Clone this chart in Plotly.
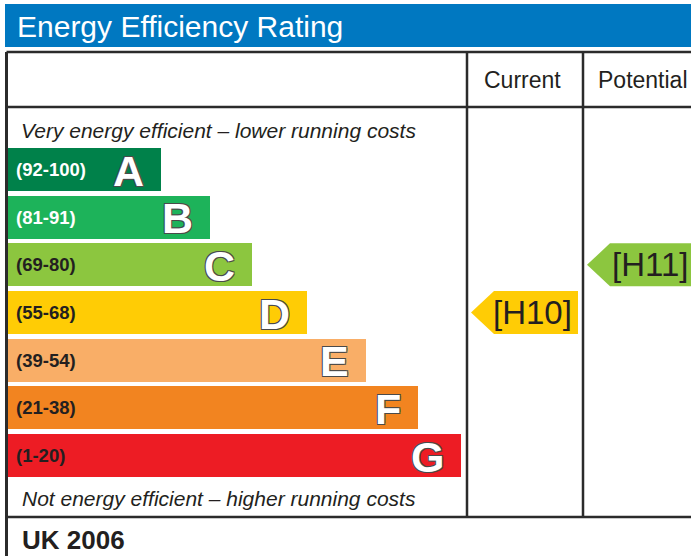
import plotly.graph_objects as go

# ---- data ----
bands = ["A", "B", "C", "D", "E", "F", "G"]
ranges = ["(92-100)", "(81-91)", "(69-80)", "(55-68)", "(39-54)", "(21-38)", "(1-20)"]
band_colors = ["#00814a", "#1db35a", "#8cc63f", "#ffcc05", "#f9ae67", "#f28420", "#ed1c24"]
range_text_colors = ["#ffffff", "#ffffff", "#231f20", "#231f20", "#231f20", "#231f20", "#231f20"]
bar_lengths = [154, 203, 245, 300, 359, 411, 454]
current_band = "D"
current_label = "[H10]"
potential_band = "C"
potential_label = "[H11]"
title_text = "Energy Efficiency Rating"
top_note = "Very energy efficient \u2013 lower running costs"
bottom_note = "Not energy efficient \u2013 higher running costs"
footer = "UK 2006"
col_headers = ["Current", "Potential"]

# ---- layout geometry (pixels) ----
W, H = 691, 556
x0 = 7
row0, pitch, bar_h = 169.5, 47.67, 43
centers = [row0 + i * pitch for i in range(len(bands))]
line_col = "#2b2b2b"
col1, col2 = 467, 583
top_y, head_y, bot_y = 52, 107, 517
FONT = "Liberation Sans, Arial, sans-serif"

fig = go.Figure()

fig.add_trace(go.Bar(
    y=centers, x=bar_lengths, base=x0, orientation="h", width=bar_h,
    marker=dict(color=band_colors, line=dict(width=0)),
    hoverinfo="skip", showlegend=False,
))

ann = []
outline = "-1px -1px 0 #4a4a4a, 1px -1px 0 #4a4a4a, -1px 1px 0 #4a4a4a, 1px 1px 0 #4a4a4a"
for i, b in enumerate(bands):
    ann.append(dict(x=14, y=centers[i], text=ranges[i], xanchor="left", yanchor="middle",
                    showarrow=False,
                    font=dict(family=FONT, size=18.5, color=range_text_colors[i], weight="bold")))
    ann.append(dict(x=x0 + bar_lengths[i] - 15, y=centers[i] + 1, text=b, xanchor="right", yanchor="middle",
                    showarrow=False,
                    font=dict(family=FONT, size=43, color="#ffffff", weight="bold",
                              shadow=outline)))


def arrow(band, label, left, right, pad):
    i = bands.index(band)
    c = centers[i]
    hh = bar_h / 2
    tip = 23
    xs = [left, left + tip, right, right, left + tip, left]
    ys = [c, c - hh, c - hh, c + hh, c + hh, c]
    fig.add_trace(go.Scatter(x=xs, y=ys, mode="lines", fill="toself",
                             fillcolor=band_colors[i], line=dict(width=0, color=band_colors[i]),
                             hoverinfo="skip", showlegend=False))
    ann.append(dict(x=left + pad, y=c, text=label, xanchor="left", yanchor="middle", showarrow=False,
                    font=dict(family=FONT, size=33, color="#231f20")))


arrow(current_band, current_label, 471, 578, 20)
arrow(potential_band, potential_label, 587, 700, 23)

# title bar
shapes = [dict(type="rect", x0=5, x1=W + 5, y0=4, y1=47, fillcolor="#0078c1", line=dict(width=0), layer="below")]
ann.append(dict(x=15, y=26, text=title_text, xanchor="left", yanchor="middle", showarrow=False,
                font=dict(family=FONT, size=30, color="#ffffff")))

# table lines
def line(xa, ya, xb, yb, w=2.5):
    shapes.append(dict(type="line", x0=xa, y0=ya, x1=xb, y1=yb, line=dict(color=line_col, width=w), layer="above"))

line(6.5, top_y, W + 5, top_y)
line(6.5, top_y, 6.5, H + 5, 3)
line(6.5, head_y, W + 5, head_y)
line(6.5, bot_y, W + 5, bot_y)
line(col1, top_y, col1, bot_y)
line(col2, top_y, col2, bot_y)

ann.append(dict(x=(col1 + col2) / 2 - 3, y=80, text=col_headers[0], xanchor="center", yanchor="middle",
                showarrow=False, font=dict(family=FONT, size=23, color="#231f20")))
ann.append(dict(x=643, y=80, text=col_headers[1], xanchor="center", yanchor="middle",
                showarrow=False, font=dict(family=FONT, size=23, color="#231f20")))
ann.append(dict(x=19, y=130, text=top_note, xanchor="left", yanchor="middle", showarrow=False,
                font=dict(family=FONT, size=21, color="#231f20", style="italic")))
ann.append(dict(x=20, y=498, text=bottom_note, xanchor="left", yanchor="middle", showarrow=False,
                font=dict(family=FONT, size=21, color="#231f20", style="italic")))
ann.append(dict(x=20, y=540, text=footer, xanchor="left", yanchor="middle", showarrow=False,
                font=dict(family=FONT, size=26, color="#231f20", weight="bold")))

fig.update_layout(
    width=W, height=H, margin=dict(l=0, r=0, t=0, b=0),
    paper_bgcolor="#ffffff", plot_bgcolor="#ffffff",
    xaxis=dict(range=[0, W], visible=False, fixedrange=True),
    yaxis=dict(range=[H, 0], visible=False, fixedrange=True),
    shapes=shapes, annotations=ann, bargap=0,
)

fig.write_html("out.html", config={"displayModeBar": False},
               post_script="document.body.style.margin='0';document.body.style.overflow='hidden';")
